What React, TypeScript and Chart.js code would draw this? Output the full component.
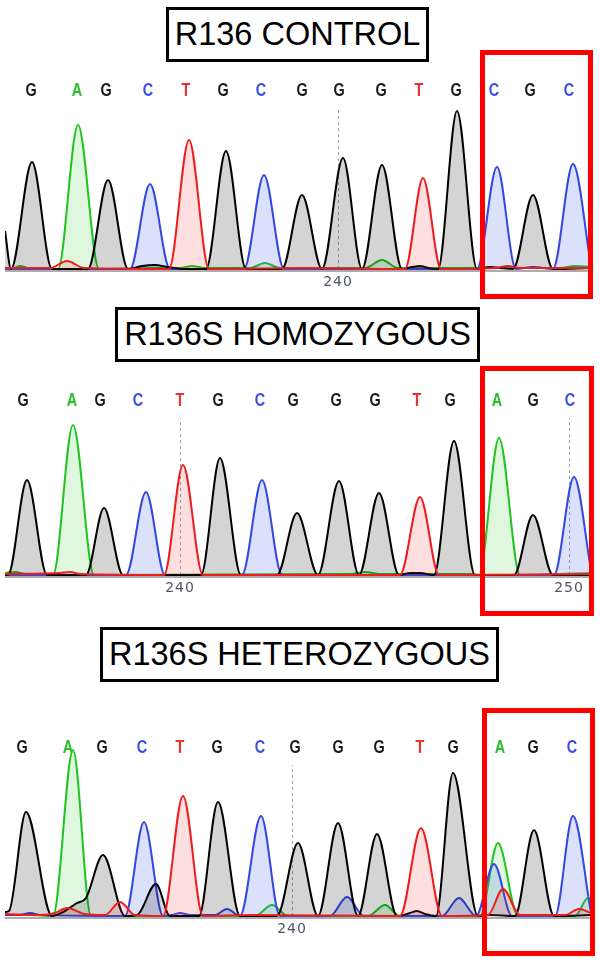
import React, { useEffect, useRef } from 'react';
import { Chart, registerables } from 'chart.js';
Chart.register(...registerables);

type Pt = [number, number];

// ---------- Panel 1: R136 CONTROL ----------
const calls1 = ['G', 'A', 'G', 'C', 'T', 'G', 'C', 'G', 'G', 'G', 'T', 'G', 'C', 'G', 'C'];
const callX1 = [31, 77, 106, 148, 186, 223, 261, 302, 339, 381, 419, 456, 494, 530, 569];
const tickPos1 = [338];
const tickLabels1 = ['240'];
const g1: Pt[] = [[5, 38], [11, 0], [32, 107], [52, 0], [88, 0], [108, 89], [128, 0], [142, 3], [155, 4], [168, 2], [186, 0], [206, 0], [226, 118], [246, 0], [282, 0], [302, 74], [322, 0], [343, 111], [362, 0], [382, 104], [402, 0], [412, 2], [420, 3], [428, 1], [438, 0], [457, 158], [477, 0], [490, 2], [500, 1], [513, 0], [533, 74], [553, 0], [591, 1]];
const a1: Pt[] = [[5, 1], [14, 1], [20, 3], [28, 1], [58, 0], [78, 144], [99, 0], [150, 1], [180, 1], [192, 3], [205, 1], [250, 1], [265, 6], [280, 1], [365, 1], [382, 9], [398, 1], [560, 1], [575, 3], [591, 2]];
const c1: Pt[] = [[5, 0], [130, 0], [150, 85], [170, 0], [244, 0], [264, 94], [284, 0], [477, 0], [497, 102], [516, 0], [533, 2], [553, 0], [573, 105], [591, 3]];
const t1: Pt[] = [[5, 1], [50, 1], [67, 8], [84, 1], [169, 0], [189, 129], [209, 0], [300, 1], [405, 0], [423, 91], [441, 0], [495, 1], [508, 3], [520, 1], [591, 1]];

// ---------- Panel 2: R136S HOMOZYGOUS ----------
const calls2 = ['G', 'A', 'G', 'C', 'T', 'G', 'C', 'G', 'G', 'G', 'T', 'G', 'A', 'G', 'C'];
const callX2 = [23, 72, 100, 138, 180, 218, 260, 293, 336, 375, 417, 450, 497, 533, 570];
const tickPos2 = [180, 569];
const tickLabels2 = ['240', '250'];
const g2: Pt[] = [[5, 0], [8, 0], [27, 95], [47, 0], [86, 0], [104, 67], [123, 0], [201, 0], [220, 117], [241, 0], [277, 0], [297, 62], [318, 0], [339, 94], [359, 0], [379, 82], [399, 0], [410, 2], [420, 2], [434, 0], [454, 134], [475, 0], [514, 0], [533, 60], [553, 0], [591, 0]];
const a2: Pt[] = [[5, 2], [15, 3], [25, 1], [53, 0], [73, 150], [94, 0], [350, 1], [365, 3], [380, 1], [470, 1], [479, 0], [499, 137], [520, 0], [591, 2]];
const c2: Pt[] = [[5, 0], [126, 0], [146, 83], [165, 0], [242, 0], [262, 95], [282, 0], [554, 0], [574, 98], [591, 5]];
const t2: Pt[] = [[5, 1], [60, 2], [70, 3], [80, 1], [164, 0], [183, 110], [203, 0], [400, 0], [420, 78], [439, 0], [591, 1]];

// ---------- Panel 3: R136S HETEROZYGOUS ----------
const calls3 = ['G', 'A', 'G', 'C', 'T', 'G', 'C', 'G', 'G', 'G', 'T', 'G', 'A', 'G', 'C'];
const callX3 = [22, 68, 102, 142, 180, 217, 260, 295, 338, 379, 420, 453, 500, 533, 572];
const tickPos3 = [292];
const tickLabels3 = ['240'];
const g3: Pt[] = [[5, 4], [9, 5], [26, 104], [52, 0], [63, 4], [77, 13], [86, 18], [103, 61], [125, 0], [137, 1], [156, 32], [170, 0], [199, 0], [218, 114], [240, 0], [277, 0], [298, 73], [318, 0], [338, 93], [358, 0], [377, 82], [397, 0], [410, 3], [417, 5], [425, 2], [436, 0], [453, 143], [478, 0], [490, 1], [515, 0], [534, 86], [554, 0], [591, 1]];
const a3: Pt[] = [[5, 1], [30, 1], [53, 0], [73, 166], [91, 0], [255, 0], [272, 11], [288, 0], [368, 0], [385, 11], [400, 0], [480, 0], [498, 73], [518, 0], [575, 0], [588, 18], [591, 16]];
const c3: Pt[] = [[5, 1], [20, 1], [30, 3], [40, 1], [125, 0], [144, 94], [163, 0], [172, 1], [180, 3], [190, 1], [215, 1], [227, 7], [240, 0], [261, 100], [280, 0], [330, 0], [347, 19], [364, 0], [442, 0], [459, 18], [476, 0], [494, 52], [512, 0], [555, 0], [573, 100], [591, 3]];
const t3: Pt[] = [[5, 2], [40, 1], [55, 3], [67, 8], [85, 2], [105, 1], [120, 14], [135, 1], [163, 0], [183, 120], [203, 0], [250, 1], [400, 0], [421, 88], [442, 0], [488, 1], [503, 27], [520, 1], [565, 1], [579, 7], [591, 3]];

const titles = ['R136 CONTROL', 'R136S HOMOZYGOUS', 'R136S HETEROZYGOUS'];

// ---------- styles ----------
const baseColor: Record<string, string> = { G: '#1a1a1a', A: '#2bbd2b', C: '#3a4fe0', T: '#e8302e' };
const lineColor: Record<string, string> = { G: '#000000', A: '#1fc41f', C: '#3248e0', T: '#f01c1c' };
const fillColor: Record<string, string> = {
  G: 'rgba(0,0,0,0.17)',
  A: 'rgba(30,190,30,0.14)',
  C: 'rgba(50,80,230,0.17)',
  T: 'rgba(240,40,40,0.15)',
};

interface PanelCfg {
  top: number;
  calls: string[];
  callX: number[];
  tickPos: number[];
  tickLabels: string[];
  g: Pt[]; a: Pt[]; c: Pt[]; t: Pt[];
  letterY: number;
  markerTop: number;
}

const panels: PanelCfg[] = [
  { top: 71, calls: calls1, callX: callX1, tickPos: tickPos1, tickLabels: tickLabels1, g: g1, a: a1, c: c1, t: t1, letterY: 178, markerTop: 160 },
  { top: 377, calls: calls2, callX: callX2, tickPos: tickPos2, tickLabels: tickLabels2, g: g2, a: a2, c: c2, t: t2, letterY: 174, markerTop: 157 },
  { top: 718, calls: calls3, callX: callX3, tickPos: tickPos3, tickLabels: tickLabels3, g: g3, a: a3, c: c3, t: t3, letterY: 168, markerTop: 151 },
];

const titleBoxes = [
  { left: 166, top: 7, width: 263, height: 55 },
  { left: 115, top: 307, width: 365, height: 55 },
  { left: 100, top: 627, width: 399, height: 55 },
];
const redBoxes = [
  { left: 480, top: 50, width: 113, height: 249 },
  { left: 480, top: 366, width: 114, height: 250 },
  { left: 482, top: 708, width: 113, height: 248 },
];

const CW = 586;
const CH = 224;

function Trace({ cfg }: { cfg: PanelCfg }) {
  const ref = useRef<HTMLCanvasElement>(null);
  useEffect(() => {
    if (!ref.current) return;
    const ds = (key: 'G' | 'A' | 'C' | 'T', data: Pt[]) => ({
      label: key,
      data,
      borderColor: lineColor[key],
      backgroundColor: fillColor[key],
      borderWidth: 2,
      pointRadius: 0,
      fill: 'origin',
      cubicInterpolationMode: 'monotone' as const,
    });
    const seqPlugin = {
      id: 'seq',
      beforeDraw(chart: any) {
        chart.ctx.letterSpacing = '1px';
      },
      beforeDatasetsDraw(chart: any) {
        const { ctx, scales } = chart;
        const x = scales.x, y = scales.y;
        ctx.save();
        ctx.setLineDash([3, 3]);
        ctx.strokeStyle = '#a0a0a0';
        ctx.lineWidth = 1;
        cfg.tickPos.forEach((v) => {
          const px = Math.round(x.getPixelForValue(v)) + 0.5;
          ctx.beginPath();
          ctx.moveTo(px, y.getPixelForValue(0));
          ctx.lineTo(px, y.getPixelForValue(cfg.markerTop));
          ctx.stroke();
        });
        ctx.restore();
      },
      afterDatasetsDraw(chart: any) {
        const { ctx, scales } = chart;
        const x = scales.x, y = scales.y;
        ctx.save();
        ctx.letterSpacing = '0px';
        ctx.font = 'bold 19px "Liberation Sans", Arial, sans-serif';
        ctx.textAlign = 'center';
        ctx.textBaseline = 'middle';
        cfg.calls.forEach((b, i) => {
          ctx.save();
          ctx.translate(x.getPixelForValue(cfg.callX[i]), y.getPixelForValue(cfg.letterY));
          ctx.scale(0.76, 1);
          ctx.fillStyle = baseColor[b];
          ctx.fillText(b, 0, 0);
          ctx.restore();
        });
        ctx.restore();
      },
    };
    const chart = new Chart(ref.current, {
      type: 'line',
      data: {
        datasets: [ds('T', cfg.t), ds('G', cfg.g), ds('C', cfg.c), ds('A', cfg.a)] as any,
      },
      options: {
        animation: false,
        responsive: false,
        maintainAspectRatio: false,
        layout: { padding: 0 },
        plugins: { legend: { display: false }, tooltip: { enabled: false } },
        events: [],
        scales: {
          x: {
            type: 'linear',
            min: 5,
            max: 591,
            grid: { display: false, drawTicks: false },
            border: { display: true, color: '#acacac', width: 2 },
            ticks: {
              autoSkip: false,
              maxRotation: 0,
              padding: 3,
              color: '#4f5563',
              font: { family: '"DejaVu Sans", Verdana, sans-serif', size: 14 },
              callback: (_v: any, i: number) => cfg.tickLabels[i],
            },
            afterBuildTicks: (s: any) => {
              s.ticks = cfg.tickPos.map((v) => ({ value: v }));
            },
            afterFit: (s: any) => {
              s.height = 24;
            },
          },
          y: { display: false, min: -2, max: 198 },
        },
      },
      plugins: [seqPlugin],
    });
    return () => chart.destroy();
  }, [cfg]);
  return (
    <canvas
      ref={ref}
      width={CW}
      height={CH}
      style={{ position: 'absolute', left: 5, top: cfg.top, width: CW, height: CH }}
    />
  );
}

export default function App() {
  return (
    <div style={{ position: 'absolute', left: 0, top: 0, width: 600, height: 964, background: '#fff', overflow: 'hidden' }}>
      {panels.map((p, i) => (
        <Trace key={'t' + i} cfg={p} />
      ))}
      {titleBoxes.map((b, i) => (
        <div
          key={'b' + i}
          style={{
            position: 'absolute',
            left: b.left,
            top: b.top,
            width: b.width,
            height: b.height,
            border: '3px solid #000',
            boxSizing: 'border-box',
            background: '#fff',
            display: 'flex',
            alignItems: 'center',
            justifyContent: 'center',
            fontFamily: '"Liberation Sans", Arial, sans-serif',
            fontSize: 32.5,
            color: '#000',
            whiteSpace: 'nowrap',
            lineHeight: 1,
          }}
        >
          {titles[i]}
        </div>
      ))}
      {redBoxes.map((b, i) => (
        <div
          key={'r' + i}
          style={{
            position: 'absolute',
            left: b.left,
            top: b.top,
            width: b.width,
            height: b.height,
            border: '5px solid #ff0000',
            boxSizing: 'border-box',
            pointerEvents: 'none',
          }}
        />
      ))}
    </div>
  );
}
